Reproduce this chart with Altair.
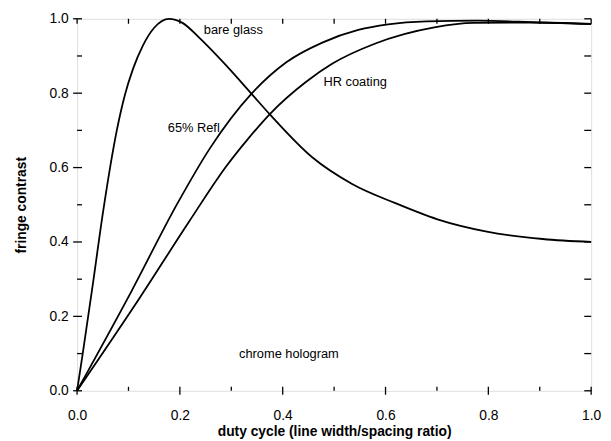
import altair as alt
import pandas as pd

# ---- data ----
bare_x = [0, 0.011, 0.03, 0.051, 0.077, 0.093, 0.109, 0.128, 0.150, 0.179, 0.205, 0.237,
          0.285, 0.339, 0.375, 0.458, 0.535, 0.618, 0.701, 0.797, 0.906, 1.0]
bare_y = [0, 0.10, 0.28, 0.485, 0.698, 0.795, 0.866, 0.928, 0.976, 1.0, 0.989, 0.950,
          0.882, 0.799, 0.743, 0.627, 0.556, 0.505, 0.461, 0.428, 0.408, 0.40]

refl_x = [0, 0.106, 0.195, 0.259, 0.339, 0.407, 0.477, 0.547, 0.605, 0.68, 0.78, 0.9, 1.0]
refl_y = [0, 0.268, 0.503, 0.653, 0.798, 0.883, 0.936, 0.970, 0.985, 0.993, 0.995, 0.99, 0.986]

hr_x = [0, 0.122, 0.218, 0.291, 0.333, 0.375, 0.445, 0.496, 0.579, 0.695, 0.771, 0.88, 1.0]
hr_y = [0, 0.250, 0.455, 0.605, 0.678, 0.744, 0.830, 0.879, 0.933, 0.977, 0.989, 0.99, 0.986]

label_text = ["bare glass", "65% Refl", "HR coating", "chrome hologram"]
label_x = [0.304, 0.227, 0.541, 0.412]
label_y = [0.971, 0.706, 0.830, 0.10]

major_ticks = [0.0, 0.2, 0.4, 0.6, 0.8, 1.0]
minor_ticks = [0.1, 0.3, 0.5, 0.7, 0.9]
all_ticks = sorted(major_ticks + minor_ticks)

W, H = 521, 377
FONT = "Liberation Sans"

rows = []
for name, xs, ys in [("bare glass", bare_x, bare_y), ("65% Refl", refl_x, refl_y),
                     ("HR coating", hr_x, hr_y)]:
    for i, (a, b) in enumerate(zip(xs, ys)):
        rows.append({"series": name, "x": a, "y": b, "order": i})
curves = pd.DataFrame(rows)
labels = pd.DataFrame({"text": label_text, "x": label_x, "y": label_y})
majors = pd.DataFrame({"v": major_ticks})
minors = pd.DataFrame({"v": minor_ticks})
alls = pd.DataFrame({"v": all_ticks})

xscale = alt.Scale(domain=[0, 1], nice=False)
yscale = alt.Scale(domain=[0, 1], nice=False)

xaxis = alt.Axis(values=major_ticks, format=".1f", ticks=False, tickSize=0, domain=False,
                 grid=False, labelPadding=18, labelFontSize=14, labelFont=FONT,
                 labelFlush=False, labelColor="black",
                 title="duty cycle (line width/spacing ratio)",
                 titleFont=FONT, titleFontSize=14, titleFontWeight="bold",
                 titleColor="black", titlePadding=2)
yaxis = alt.Axis(values=major_ticks, format=".1f", ticks=False, tickSize=0, domain=False,
                 grid=False, labelPadding=9, labelFontSize=14, labelFont=FONT,
                 labelFlush=False, labelColor="black", title="fringe contrast",
                 titleFont=FONT, titleFontSize=14, titleFontWeight="bold",
                 titleColor="black", titlePadding=21)

lines = alt.Chart(curves).mark_line(color="black", strokeWidth=1.8, interpolate="monotone").encode(
    x=alt.X("x:Q", scale=xscale, axis=xaxis),
    y=alt.Y("y:Q", scale=yscale, axis=yaxis),
    detail="series:N",
    order="order:Q",
)

texts = alt.Chart(labels).mark_text(font=FONT, fontSize=13, color="black",
                                    align="center", baseline="middle").encode(
    x=alt.X("x:Q", scale=xscale),
    y=alt.Y("y:Q", scale=yscale),
    text="text:N",
)

tick_style = dict(color="black", strokeWidth=1.3)
# bottom axis
bot_major = alt.Chart(majors).mark_rule(**tick_style).encode(
    x=alt.X("v:Q", scale=xscale), y=alt.value(H + 4), y2=alt.value(H - 4))
bot_minor = alt.Chart(minors).mark_rule(**tick_style).encode(
    x=alt.X("v:Q", scale=xscale), y=alt.value(H), y2=alt.value(H - 4))
# top axis
top_all = alt.Chart(alls).mark_rule(**tick_style).encode(
    x=alt.X("v:Q", scale=xscale), y=alt.value(0), y2=alt.value(5))
# left axis
left_major = alt.Chart(majors).mark_rule(**tick_style).encode(
    y=alt.Y("v:Q", scale=yscale), x=alt.value(-4), x2=alt.value(5))
left_minor = alt.Chart(minors).mark_rule(**tick_style).encode(
    y=alt.Y("v:Q", scale=yscale), x=alt.value(0), x2=alt.value(5))
# right axis
right_all = alt.Chart(alls).mark_rule(**tick_style).encode(
    y=alt.Y("v:Q", scale=yscale), x=alt.value(W), x2=alt.value(W - 7))

chart = alt.layer(
    bot_major, bot_minor, top_all, left_major, left_minor, right_all, lines, texts
).properties(
    width=W, height=H,
    autosize=alt.AutoSizeParams(type="none"),
    padding={"left": 70, "top": 8, "right": 12, "bottom": 50},
).configure_view(
    stroke="black", strokeWidth=1.6
).configure(background="white")

chart.save("out.html", embed_options={"renderer": "svg", "actions": False})
